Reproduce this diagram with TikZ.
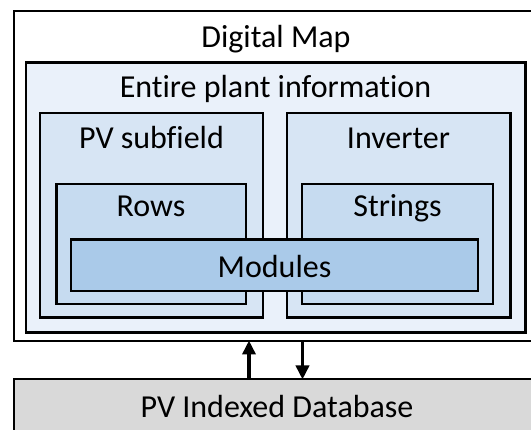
\documentclass[tikz,border=0pt]{standalone}
\usepackage{fontspec}
\setmainfont{Carlito}[Ligatures={NoCommon}]
\usetikzlibrary{arrows.meta,calc}
\definecolor{cPlant}{HTML}{EAF1FA}
\definecolor{cSub}{HTML}{D7E5F4}
\definecolor{cRow}{HTML}{C6DBF0}
\definecolor{cMod}{HTML}{AACAE9}
\definecolor{cDb}{HTML}{D9D9D9}
\tikzset{
  boxframe/.style={draw=black, line width=2.8pt},
  lbl/.style={anchor=base, inner sep=0pt, font=\fontsize{32}{38}\selectfont},
  arr/.style={line width=3.8pt, -{Triangle[width=13pt,length=14pt]}, shorten >=-0.5pt}
}
\begin{document}
\begin{tikzpicture}[x=1pt,y=-1pt]
\useasboundingbox (0,0) rectangle (531,430);
\clip (0,0) rectangle (531,430);
\fill[white] (0,0) rectangle (531,430);
% boxes
\draw[boxframe, fill=white] (14,11) rectangle (538,341);
\coordinate (mapS) at (276,341);
\draw[boxframe, fill=cPlant] (26,62.5) rectangle (525.5,332.5);
\draw[boxframe, fill=cSub] (40,113) rectangle (263,317.5);
\draw[boxframe, fill=cSub] (287,113) rectangle (510.5,317.5);
\draw[boxframe, fill=cRow] (56.5,184) rectangle (246,304);
\draw[boxframe, fill=cRow] (302,184) rectangle (493,304);
\draw[boxframe, fill=cMod] (71,239.5) rectangle (478,291);
\draw[boxframe, fill=cDb] (14,379) rectangle (538,450);
\coordinate (dbN) at (276,379);
% labels
\node[lbl] (tMap) at (276,47.5) {Digital Map};
\node[lbl] (tPlant) at (275.5,98) {Entire plant information};
\node[lbl] (tPV) at (151.5,149) {PV subfield};
\node[lbl] (tInv) at (398.5,149) {Inverter};
\node[lbl] (tRows) at (151,217) {Rows};
\node[lbl] (tStr) at (397.5,217) {Strings};
\node[lbl] (tMod) at (274.5,278) {Modules};
\node[lbl] (tDb) at (277,418) {PV Indexed Database};
% arrows
\coordinate (upx) at (249,0);
\coordinate (dnx) at (302.5,0);
\draw[arr] (dbN -| upx) -- (mapS -| upx);
\draw[arr] (mapS -| dnx) -- (dbN -| dnx);
\end{tikzpicture}
\end{document}
